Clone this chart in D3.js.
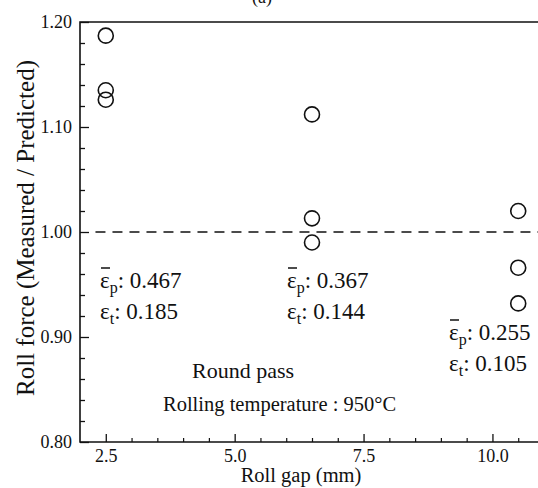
<!DOCTYPE html>
<html>
<head>
<meta charset="utf-8">
<script src="https://cdn.jsdelivr.net/npm/d3@7"></script>
<style>
    body { margin: 0; background: #fff; }
</style>
</head>
<body>
<div id="chart"></div>
<script>
// roll gap (mm) of each measured group
const rollGaps = [2.5, 6.5, 10.5]
// measured / predicted roll force, per group
const forceRatios = [
    [1.187, 1.135, 1.126],
    [1.112, 1.013, 0.990],
    [1.020, 0.966, 0.932],
]
// mean plastic strain and strain values for each group
const meanStrains = ['0.467', '0.367', '0.255']
const strainValues = ['0.185', '0.144', '0.105']
const xTickValues = [2.5, 5.0, 7.5, 10.0]
const yTickValues = [0.80, 0.90, 1.00, 1.10, 1.20]
const referenceRatio = 1.00

const width = 538
const height = 488
const margin = { top: 22, right: -6, bottom: 46, left: 80 }
const serif = '"Liberation Serif", "Times New Roman", "DejaVu Serif", serif'

const svg = d3.select('#chart')
    .append('svg')
    .attr('width', width)
    .attr('height', height)
    .attr('font-family', serif)

const x = d3.scaleLinear()
    .domain([2, 11])
    .range([margin.left, width - margin.right])
const y = d3.scaleLinear()
    .domain([0.8, 1.2])
    .range([height - margin.bottom, margin.top])

const black = '#111'

// frame: left, bottom and top lines
svg.append('path')
    .attr('d', `M${x(11)},${y(1.2)}H${x(2)}V${y(0.8)}H${x(11)}`)
    .attr('fill', 'none')
    .attr('stroke', black)
    .attr('stroke-width', 1.6)

// y axis, ticks point inward
const yMinor = d3.range(0.82, 1.2, 0.02).filter(v => Math.abs(v * 10 - Math.round(v * 10)) > 0.01)
svg.append('g')
    .attr('transform', `translate(${x(2)},0)`)
    .call(d3.axisRight(y).tickValues(yMinor).tickSize(5).tickFormat(''))
    .call(g => g.select('.domain').remove())
    .call(g => g.selectAll('line').attr('stroke', black).attr('stroke-width', 1.3))
svg.append('g')
    .attr('transform', `translate(${x(2)},0)`)
    .call(d3.axisLeft(y).tickValues(yTickValues).tickSize(-9).tickPadding(8).tickFormat(d3.format('.2f')))
    .call(g => g.select('.domain').remove())
    .call(g => g.selectAll('line').attr('stroke', black).attr('stroke-width', 1.3))
    .call(g => g.selectAll('text').attr('font-family', serif).attr('font-size', 18).attr('fill', black).attr('dy', '0.3em'))

// x axis, ticks point inward
const xMinor = d3.range(2.5, 11, 0.5).filter(v => !xTickValues.includes(v))
svg.append('g')
    .attr('transform', `translate(0,${y(0.8)})`)
    .call(d3.axisTop(x).tickValues(xMinor).tickSize(4).tickFormat(''))
    .call(g => g.select('.domain').remove())
    .call(g => g.selectAll('line').attr('stroke', black).attr('stroke-width', 1.2))
svg.append('g')
    .attr('transform', `translate(0,${y(0.8)})`)
    .call(d3.axisBottom(x).tickValues(xTickValues).tickSize(-8).tickPadding(7).tickFormat(d3.format('.1f')))
    .call(g => g.select('.domain').remove())
    .call(g => g.selectAll('line').attr('stroke', black).attr('stroke-width', 1.3))
    .call(g => g.selectAll('text').attr('font-family', serif).attr('font-size', 18).attr('fill', black))

// dashed reference line at ratio 1
svg.append('line')
    .attr('x1', x(2.3))
    .attr('x2', width)
    .attr('y1', y(referenceRatio))
    .attr('y2', y(referenceRatio))
    .attr('stroke', black)
    .attr('stroke-width', 1.6)
    .attr('stroke-dasharray', '10 7')

// measured points
const points = rollGaps.flatMap((gap, i) => forceRatios[i].map(r => ({ gap, r })))
svg.append('g')
    .selectAll('circle')
    .data(points)
    .join('circle')
    .attr('cx', d => x(d.gap))
    .attr('cy', d => y(d.r))
    .attr('r', 7.5)
    .attr('fill', 'none')
    .attr('stroke', black)
    .attr('stroke-width', 1.6)

// strain annotations
const notePos = [
    { x: 100, y: 288 },
    { x: 287, y: 288 },
    { x: 449, y: 340 },
]
const strainSize = 23
notePos.forEach((p, i) => {
    const top = svg.append('text')
        .attr('x', p.x)
        .attr('y', p.y)
        .attr('font-size', strainSize)
        .attr('fill', black)
    top.append('tspan').text('ε')
    top.append('tspan').attr('font-size', 16).attr('dy', 5).text('p')
    top.append('tspan').attr('dy', -5).text(': ' + meanStrains[i])
    // overbar on epsilon
    svg.append('line')
        .attr('x1', p.x + 1)
        .attr('x2', p.x + 10)
        .attr('y1', p.y - 20)
        .attr('y2', p.y - 20)
        .attr('stroke', black)
        .attr('stroke-width', 1.5)

    const bottom = svg.append('text')
        .attr('x', p.x)
        .attr('y', p.y + 31)
        .attr('font-size', strainSize)
        .attr('fill', black)
    bottom.append('tspan').text('ε')
    bottom.append('tspan').attr('font-size', 16).attr('dy', 5).text('t')
    bottom.append('tspan').attr('dy', -5).text(': ' + strainValues[i])
})

svg.append('text')
    .attr('x', 192)
    .attr('y', 378)
    .attr('font-size', 22)
    .attr('fill', black)
    .text('Round pass')
svg.append('text')
    .attr('x', 163)
    .attr('y', 411)
    .attr('font-size', 20.5)
    .attr('fill', black)
    .text('Rolling temperature : 950°C')

// panel label, mostly cut off at the top
svg.append('text')
    .attr('x', 262)
    .attr('y', 3)
    .attr('text-anchor', 'middle')
    .attr('font-size', 18)
    .attr('fill', black)
    .text('(a)')

// axis titles
svg.append('text')
    .attr('x', 301)
    .attr('y', 482)
    .attr('text-anchor', 'middle')
    .attr('font-size', 20.5)
    .attr('fill', black)
    .text('Roll gap (mm)')
svg.append('text')
    .attr('transform', 'translate(34,228) rotate(-90)')
    .attr('text-anchor', 'middle')
    .attr('font-size', 25)
    .attr('fill', black)
    .text('Roll force (Measured / Predicted)')
</script>
</body>
</html>
